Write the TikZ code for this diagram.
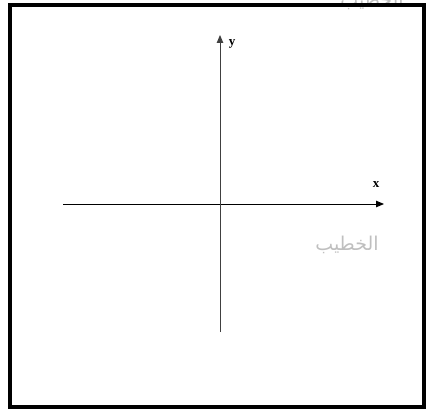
\documentclass[tikz,border=0pt]{standalone}
\usepackage{fontspec}
\setmainfont{Liberation Serif}
\newfontfamily\arabicfont[Script=Arabic]{DejaVu Sans}
\TeXXeTstate=1
\usetikzlibrary{arrows.meta}
\begin{document}
\begin{tikzpicture}[x=1pt,y=1pt,
  axis/.style={line width=0.9pt,-{Triangle[length=8pt,width=6.5pt]}},
  lbl/.style={font=\bfseries\fontsize{13}{13}\selectfont},
  wm/.style={text=black!25,font=\arabicfont\fontsize{19}{19}\selectfont}]
\useasboundingbox (0,0) rectangle (427,410);
\begin{scope}
\clip (0,0) rectangle (427,410);
\node[wm] (wm2) at (372,409) {\beginR الخطيب\endR};
\end{scope}
\draw[line width=3.2pt] (10,3) rectangle (424,405);
\coordinate (xs) at (63,206);
\coordinate (xe) at (384,206);
\coordinate (ys) at (220,78);
\coordinate (ye) at (220,375);
\draw[axis] (xs) -- (xe);
\draw[axis,black!75] (ys) -- (ye);
\node[lbl] (xl) at (376,225) {x};
\node[lbl] (yl) at (232,366) {y};
\node[wm] (wm) at (347,165) {\beginR الخطيب\endR};
\end{tikzpicture}
\end{document}
